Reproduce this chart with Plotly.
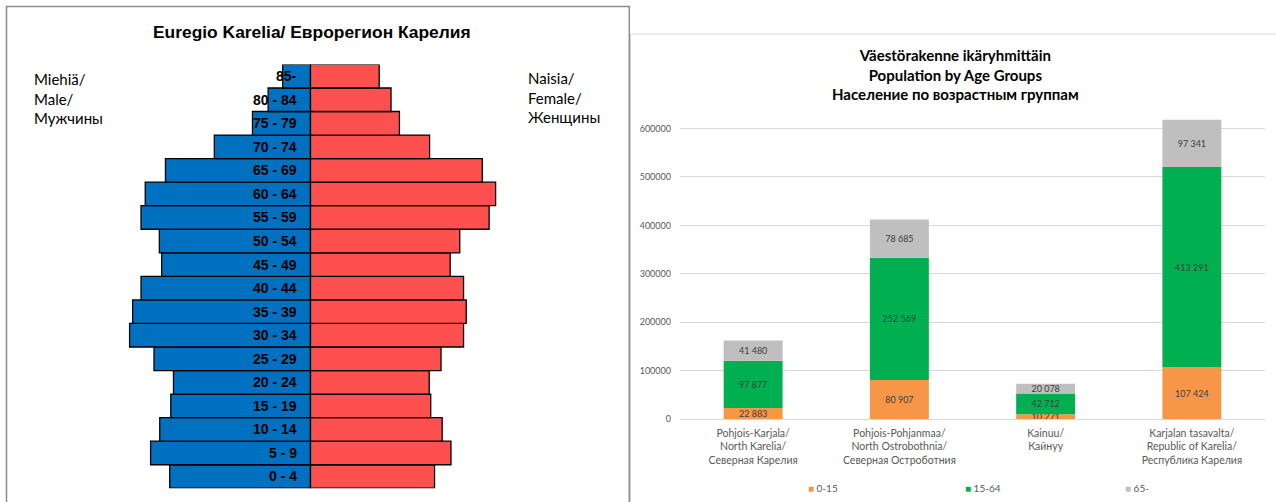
import plotly.graph_objects as go

# ---------------- data ----------------
age_groups = ["0 - 4", "5 - 9", "10 - 14", "15 - 19", "20 - 24", "25 - 29", "30 - 34",
              "35 - 39", "40 - 44", "45 - 49", "50 - 54", "55 - 59", "60 - 64",
              "65 - 69", "70 - 74", "75 - 79", "80 - 84", "85-"]
males = [36900, 41900, 39500, 36600, 35900, 41000, 47400, 46600, 44400, 39000,
         39600, 44400, 43300, 38000, 25200, 15200, 11100, 7300]
females = [32500, 36800, 34500, 31500, 31100, 34200, 40100, 40800, 40100, 36600,
           39100, 46800, 48500, 45000, 31200, 23300, 21100, 18000]

regions = ["Pohjois-Karjala/<br>North Karelia/<br>Северная Карелия",
           "Pohjois-Pohjanmaa/<br>North Ostrobothnia/<br>Северная Остроботния",
           "Kainuu/<br>Кайнуу",
           "Karjalan tasavalta/<br>Republic of Karelia/<br>Республика Карелия"]
age_0_15 = [22883, 80907, 10271, 107424]
age_15_64 = [97877, 252569, 42712, 413291]
age_65 = [41480, 78685, 20078, 97341]
series_names = ["0-15", "15-64", "65-"]

# ---------------- styling ----------------
W, H = 1276, 502
FIG_H = 508
CAL = "Lato, 'Open Sans', sans-serif"
NARROW = "'Liberation Sans Narrow', 'Arial Narrow', 'Liberation Sans', Arial, sans-serif"
ARIAL = "'Liberation Sans', Arial, sans-serif"
colors = ["#F79646", "#00B050", "#BFBFBF"]


def px_x(p):
    return p / W


def px_y(p):
    return 1 - p / H


def fmt(v):
    return f"{v:,}".replace(",", "\u00a0")


fig = go.Figure()

# pyramid
fig.add_trace(go.Bar(y=age_groups, x=[-m for m in males], orientation="h", width=1,
                     marker=dict(color="#0070C0", line=dict(color="black", width=1.3)),
                     xaxis="x", yaxis="y", showlegend=False, hoverinfo="skip"))
fig.add_trace(go.Bar(y=age_groups, x=females, orientation="h", width=1,
                     marker=dict(color="#FF5050", line=dict(color="black", width=1.3)),
                     xaxis="x", yaxis="y", showlegend=False, hoverinfo="skip"))

# stacked bars
for name, vals, col in zip(series_names, [age_0_15, age_15_64, age_65], colors):
    fig.add_trace(go.Bar(x=regions, y=vals, name=name, width=0.403,
                         marker=dict(color=col, line=dict(width=0)),
                         text=[fmt(v) for v in vals], textposition="inside",
                         insidetextanchor="middle", constraintext="none",
                         textfont=dict(family=CAL, size=9, color="#404040"),
                         xaxis="x2", yaxis="y2", showlegend=False))

R = 52400
annotations = []
for g in age_groups:
    annotations.append(dict(x=0, y=g, xref="x", yref="y", text=f"<b>{g}</b>",
                            showarrow=False, xanchor="right", xshift=-12,
                            font=dict(family=NARROW, size=14, color="black")))

annotations += [
    dict(x=px_x(312), y=px_y(32), xref="paper", yref="paper",
         text="<b>Euregio Karelia/ Еврорегион Карелия</b>", showarrow=False,
         xanchor="center", yanchor="middle", font=dict(family=ARIAL, size=17.4, color="black")),
    dict(x=px_x(32), y=px_y(98), xref="paper", yref="paper",
         text="Miehiä/<br>Male/<br>Мужчины", showarrow=False, align="left",
         xanchor="left", yanchor="middle", font=dict(family=CAL, size=15, color="black")),
    dict(x=px_x(526), y=px_y(97), xref="paper", yref="paper",
         text="Naisia/<br>Female/<br>Женщины", showarrow=False, align="left",
         xanchor="left", yanchor="middle", font=dict(family=CAL, size=15, color="black")),
    dict(x=px_x(955), y=px_y(74), xref="paper", yref="paper",
         text="<b>Väestörakenne ikäryhmittäin<br>Population by Age Groups<br>Население по возрастным группам</b>",
         showarrow=False, xanchor="center", yanchor="middle",
         font=dict(family=CAL, size=15, color="black")),
]

legend_x = [806, 963, 1123]
for name, col, lx in zip(series_names, colors, legend_x):
    annotations.append(dict(x=px_x(lx), y=px_y(487), xref="paper", yref="paper",
                            text=f'<span style="color:{col}">■</span> {name}',
                            showarrow=False, xanchor="left", yanchor="middle",
                            font=dict(family=CAL, size=10, color="#595959")))

shapes = [
    dict(type="rect", xref="paper", yref="paper", x0=px_x(630.5), x1=1.01,
         y0=-0.02, y1=px_y(34), line=dict(color="#D9D9D9", width=1), layer="below"),
    dict(type="rect", xref="paper", yref="paper", x0=px_x(6.5), x1=px_x(629.3),
         y0=-0.02, y1=px_y(6.5), line=dict(color="#8C8C8C", width=1.5),
         fillcolor="white", layer="below"),
]

fig.update_layout(
    width=W, height=FIG_H, margin=dict(l=0, r=0, t=0, b=0),
    paper_bgcolor="white", plot_bgcolor="white",
    barmode="relative",
    xaxis=dict(domain=[px_x(110.5), px_x(510.5)], range=[-R, R], visible=False,
               fixedrange=True),
    yaxis=dict(domain=[px_y(487.3), px_y(64.3)], categoryorder="array",
               categoryarray=age_groups, range=[-0.5, len(age_groups) - 0.5],
               visible=False),
    xaxis2=dict(domain=[px_x(680), px_x(1265)], anchor="y2", showgrid=False,
                showline=True, linecolor="#D9D9D9", linewidth=1, ticks="",
                tickfont=dict(family=CAL, size=10.5, color="#595959"),
                ticklabelstandoff=4),
    yaxis2=dict(domain=[px_y(418.3), px_y(104.15)], anchor="x2", range=[0, 650000],
                tick0=0, dtick=100000, tickformat="d", showgrid=True,
                gridcolor="#D9D9D9", gridwidth=1, zeroline=False, showline=False,
                tickfont=dict(family=CAL, size=9, color="#595959"),
                ticklabelstandoff=8),
    annotations=annotations, shapes=shapes,
)

fig.write_html(
    "out.html",
    config={"displayModeBar": False},
    post_script=("document.documentElement.style.overflow='hidden';"
                 "document.body.style.margin='0';document.body.style.padding='0';"
                 "document.body.style.overflow='hidden';"),
)
